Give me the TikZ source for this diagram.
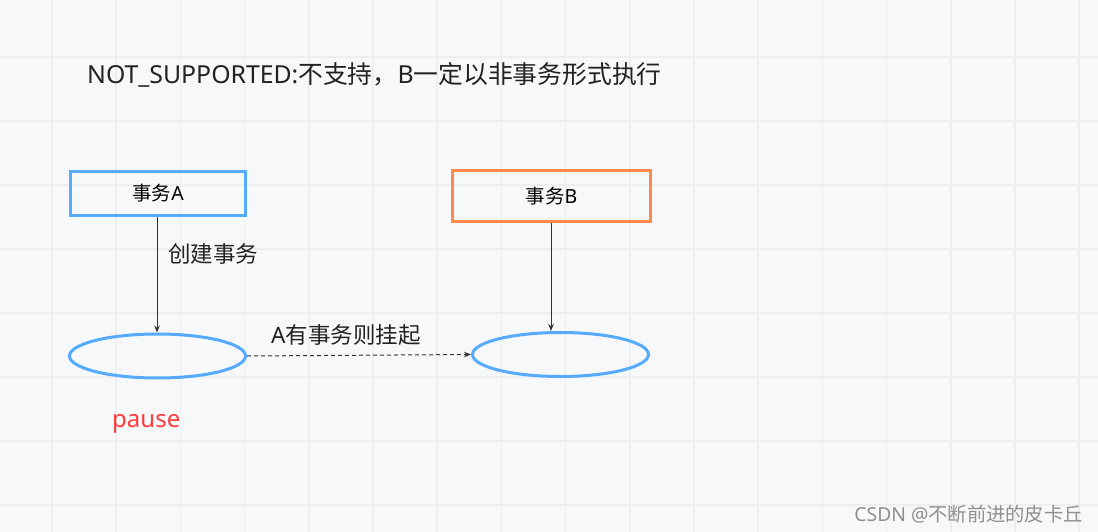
\documentclass[tikz,border=0pt]{standalone}
\usepackage{fontspec}
\setmainfont{Noto Sans}
\newfontfamily\cjk{Noto Sans CJK SC}
\usetikzlibrary{arrows.meta,shapes.geometric}
\definecolor{bgc}{HTML}{F7F8FA}
\definecolor{gridc}{HTML}{ECEEF1}
\definecolor{blueb}{HTML}{57ABFF}
\definecolor{orangeb}{HTML}{FF8A48}
\definecolor{redt}{HTML}{FF3B3B}
\definecolor{textc}{HTML}{222222}
\definecolor{arrowc}{HTML}{333333}
\definecolor{markc}{HTML}{8F8F8F}
\tikzset{
  boxA/.style={draw=blueb, line width=3pt, minimum width=175pt, minimum height=44pt, inner sep=0pt},
  boxB/.style={draw=orangeb, line width=3pt, minimum width=198pt, minimum height=51pt, inner sep=0pt},
  ell/.style={draw=blueb, line width=3pt, ellipse, minimum width=176pt, minimum height=44pt, inner sep=0pt},
  lbl/.style={text=textc, inner sep=0pt, font=\fontsize{22.5}{26}\selectfont},
  conn/.style={draw=arrowc, line width=1pt, -{Stealth[length=7pt,width=5.5pt]}},
  dconn/.style={conn, dash pattern=on 4pt off 3pt},
}
\begin{document}
\begin{tikzpicture}[x=1pt,y=-1pt]
\useasboundingbox (0,0) rectangle (1098,532);
\fill[bgc] (0,0) rectangle (1098,532);
\foreach \i in {0,...,16} {\draw[gridc, line width=1.5pt] (52+64.2*\i,0) -- (52+64.2*\i,532);}
\foreach \j in {0,...,7} {\draw[gridc, line width=1.5pt] (0,57+64*\j) -- (1098,57+64*\j);}
\node[text=textc, inner sep=0pt, anchor=west, font=\fontsize{24.8}{30}\selectfont] (title) at (87,75)
  {NOT\_SUPPORTED:{\cjk 不支持，}B{\cjk 一定以非事务形式执行}};
\node[boxA] (A) at (158,193.5) {\fontsize{19.5}{23}\selectfont{\cjk 事务}A};
\node[boxB] (B) at (551.5,196) {\fontsize{19.5}{23}\selectfont{\cjk 事务}B};
\node[ell] (E1) at (157.5,356) {};
\node[ell] (E2) at (560.5,354.5) {};
\draw[conn] (A.south -| 157,0) -- (E1.north -| 157,0);
\draw[conn] (B.south -| 551,0) -- (E2.north -| 551,0);
\draw[dconn] (E1.east) -- (E2.west);
\node[lbl, anchor=west] (l1) at (168,254) {\cjk 创建事务};
\node[lbl, anchor=west] (l2) at (271,335) {A{\cjk 有事务则挂起}};
\node[text=redt, inner sep=0pt, anchor=base west, font=\fontsize{24}{28}\selectfont] (pause) at (112,427) {pause};
\node[text=markc, inner sep=0pt, anchor=east, font=\fontsize{19.3}{23}\selectfont] (mark) at (1083,514) {CSDN @{\cjk 不断前进的皮卡丘}};
\end{tikzpicture}
\end{document}
